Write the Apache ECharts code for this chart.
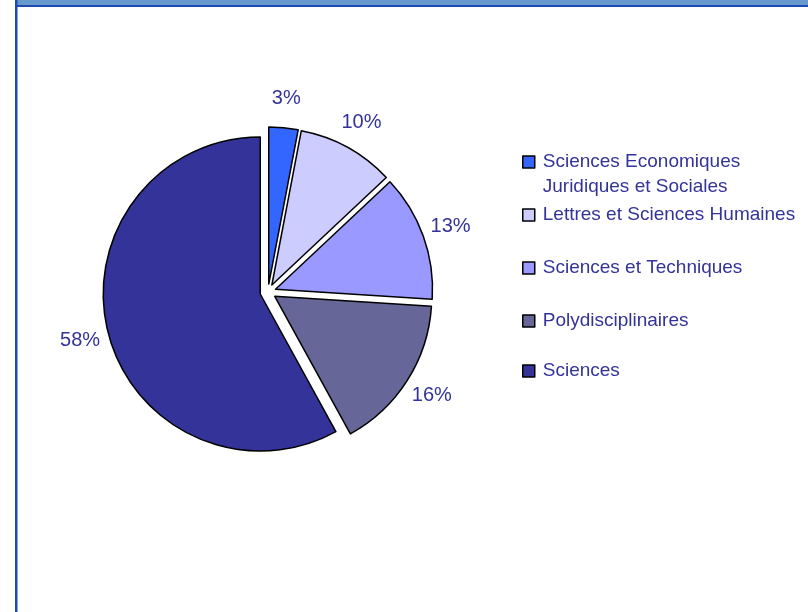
<!DOCTYPE html>
<html>
<head>
<meta charset="utf-8">
<script src="https://cdn.jsdelivr.net/npm/echarts@6/dist/echarts.min.js"></script>
<style>
html,body{margin:0;padding:0;background:#fff;}
#chart{width:808px;height:612px;}
</style>
</head>
<body>
<div id="chart"></div>
<script>
// ---- data ----
var categories = [
  'Sciences Economiques\nJuridiques et Sociales',
  'Lettres et Sciences Humaines',
  'Sciences et Techniques',
  'Polydisciplinaires',
  'Sciences'
];
var values = [3, 10, 13, 16, 58];
var colors = ['#3366FF', '#CCCCFF', '#9999FF', '#666699', '#333399'];

// ---- layout ----
var legendCenters = [162, 215, 268, 321, 371];
var lineH = 25;
var textColor = '#333399';
var font = 'Liberation Sans, Arial, sans-serif';

var chart = echarts.init(document.getElementById('chart'), null, {renderer: 'canvas'});

var pieData = categories.map(function (c, i) {
  return {
    name: c,
    value: values[i],
    selected: true,
    itemStyle: {color: colors[i]}
  };
});
var labelData = categories.map(function (c, i) {
  return {name: c, value: values[i]};
});

var legends = categories.map(function (c, i) {
  var nLines = (i === 0) ? 3 : 1;
  return {
    data: [c],
    orient: 'vertical',
    left: 522,
    top: legendCenters[i] - nLines * lineH / 2,
    padding: 0,
    itemWidth: 12,
    itemHeight: 12,
    icon: 'rect',
    selectedMode: false,
    itemStyle: {borderColor: '#000', borderWidth: 1.5},
    formatter: function (name) { return i === 0 ? '\u00a0\n' + name : name; },
    textStyle: {
      color: textColor,
      fontSize: 19,
      fontFamily: font,
      lineHeight: lineH,
      padding: [0, 0, 0, 3]
    }
  };
});

chart.setOption({
  backgroundColor: '#ffffff',
  animation: false,
  legend: legends,
  graphic: [
    {type: 'rect', shape: {x: 17, y: 0, width: 791, height: 5}, style: {fill: '#6699CC'}, silent: true},
    {type: 'rect', shape: {x: 15, y: 5, width: 793, height: 2}, style: {fill: '#1F4BB0'}, silent: true},
    {type: 'rect', shape: {x: 15, y: 0, width: 2.5, height: 612}, style: {fill: '#1F4BB0'}, silent: true}
  ],
  series: [
    {
      type: 'pie',
      center: [268, 292],
      radius: 157,
      startAngle: 90,
      clockwise: true,
      selectedMode: 'multiple',
      selectedOffset: 8,
      avoidLabelOverlap: false,
      label: {show: false},
      labelLine: {show: false},
      itemStyle: {borderColor: '#000', borderWidth: 1.5},
      select: {itemStyle: {borderColor: '#000', borderWidth: 1.5}},
      emphasis: {disabled: true, scale: false},
      data: pieData
    },
    {
      type: 'pie',
      center: [268, 292],
      radius: [178, 204],
      startAngle: 90,
      clockwise: true,
      silent: true,
      avoidLabelOverlap: false,
      itemStyle: {color: 'rgba(0,0,0,0)', borderWidth: 0},
      emphasis: {disabled: true, scale: false},
      labelLine: {show: false},
      label: {
        show: true,
        position: 'inside',
        formatter: '{c}%',
        color: textColor,
        fontSize: 20,
        fontFamily: font
      },
      data: labelData
    }
  ]
});
</script>
</body>
</html>
